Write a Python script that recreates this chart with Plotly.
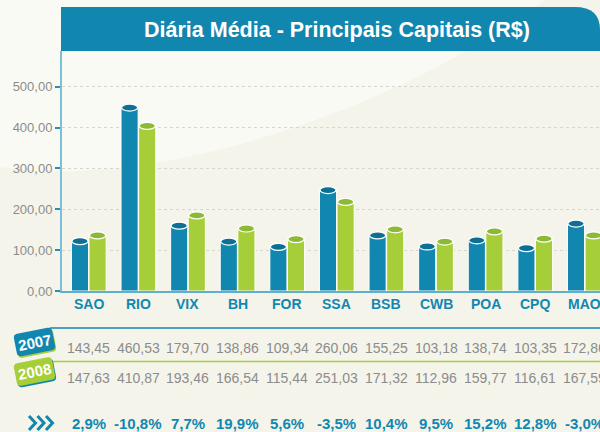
import math

import plotly.graph_objects as go

# capitals shown on the chart
cities = ["SAO", "RIO", "VIX", "BH", "FOR", "SSA", "BSB", "CWB", "POA", "CPQ", "MAO"]

# bar heights as drawn (R$)
bars_2007 = [122, 449, 160, 121, 108, 247, 136, 109, 124, 105, 165]
bars_2008 = [136, 404, 185, 153, 127, 218, 151, 121, 146, 128, 136]

# table under the chart
table_2007 = ["143,45", "460,53", "179,70", "138,86", "109,34", "260,06",
              "155,25", "103,18", "138,74", "103,35", "172,86"]
table_2008 = ["147,63", "410,87", "193,46", "166,54", "115,44", "251,03",
              "171,32", "112,96", "159,77", "116,61", "167,59"]
variation = ["2,9%", "-10,8%", "7,7%", "19,9%", "5,6%", "-3,5%",
             "10,4%", "9,5%", "15,2%", "12,8%", "-3,0%"]

y_ticks = [0, 100, 200, 300, 400, 500]

BLUE = "#1187b0"
BLUE_TOP = "#0e6f94"
GREEN = "#a6ce39"
GREEN_TOP = "#8cba34"
GRAY = "#8c8c8c"
BG = "#f4f4ea"
W, H = 600, 432


def px(x, y):
    # pixel -> paper coords (margins are zero)
    return x / W, 1 - y / H


def path_from(points):
    parts = []
    for i, (x, y) in enumerate(points):
        X, Y = px(x, y)
        parts.append(("M" if i == 0 else "L") + f" {X:.4f},{Y:.4f}")
    return " ".join(parts) + " Z"


def badge(cx, cy, w, h, r, angle):
    # rounded rectangle rotated around its centre
    pts = []
    corners = [(w / 2 - r, h / 2 - r, 0), (-w / 2 + r, h / 2 - r, 90),
               (-w / 2 + r, -h / 2 + r, 180), (w / 2 - r, -h / 2 + r, 270)]
    for ox, oy, start in corners:
        for k in range(5):
            a = math.radians(start + k * 22.5)
            pts.append((ox + r * math.cos(a), oy + r * math.sin(a)))
    t = math.radians(angle)
    out = []
    for x, y in pts:
        out.append((cx + x * math.cos(t) - y * math.sin(t),
                    cy + x * math.sin(t) + y * math.cos(t)))
    return path_from(out)


fig = go.Figure()

xs = list(range(len(cities)))
bar_w = 0.345
fig.add_trace(go.Bar(x=xs, y=bars_2007, name="2007", width=bar_w, offset=-0.35,
                     marker=dict(color=BLUE, line=dict(color="white", width=1))))
fig.add_trace(go.Bar(x=xs, y=bars_2008, name="2008", width=bar_w, offset=0.005,
                     marker=dict(color=GREEN, line=dict(color="white", width=1))))

shapes = []

# lighter swoosh in the background
p0 = px(0, 167)
c1 = px(150, 190)
c2 = px(390, 115)
p3 = px(545, 0)
shapes.append(dict(
    type="path", xref="paper", yref="paper", layer="below", line=dict(width=0),
    fillcolor="#fafaf5",
    path=f"M 0,1 L {p0[0]},{p0[1]} C {c1[0]},{c1[1]} {c2[0]},{c2[1]} {p3[0]},{p3[1]} Z",
))

# header band with rounded top-right corner
a = px(61, 51)
b = px(61, 7)
c = px(575, 7)
d = px(600, 30)
e = px(600, 51)
ctrl = px(600, 7)
shapes.append(dict(
    type="path", xref="paper", yref="paper", line=dict(width=0), fillcolor=BLUE,
    path=f"M {a[0]},{a[1]} L {b[0]},{b[1]} L {c[0]},{c[1]} Q {ctrl[0]},{ctrl[1]} {d[0]},{d[1]} L {e[0]},{e[1]} Z",
))

# cylinder tops
cap = 7 / 0.4086 / 2
for i in xs:
    for val, off, col in ((bars_2007[i], -0.35, BLUE_TOP), (bars_2008[i], 0.005, GREEN_TOP)):
        shapes.append(dict(
            type="circle", xref="x", yref="y",
            x0=i + off + 0.01, x1=i + off + bar_w - 0.01,
            y0=val - cap, y1=val + cap,
            fillcolor=col, line=dict(color="white", width=1.2),
        ))

# table rules
for yy, col in ((328, BLUE), (361.5, GREEN)):
    l0 = px(50, yy)
    l1 = px(600, yy)
    shapes.append(dict(type="line", xref="paper", yref="paper",
                       x0=l0[0], y0=l0[1], x1=l1[0], y1=l1[1],
                       line=dict(color=col, width=1.5)))

# year badges (with the thin edge in the other colour)
shapes.append(dict(type="path", xref="paper", yref="paper", line=dict(width=0),
                   fillcolor=GREEN, path=badge(35.5, 343.5, 39, 23, 4, -11)))
shapes.append(dict(type="path", xref="paper", yref="paper", line=dict(width=0),
                   fillcolor=BLUE, path=badge(34.5, 342, 39, 23, 4, -11)))
shapes.append(dict(type="path", xref="paper", yref="paper", line=dict(width=0),
                   fillcolor=BLUE, path=badge(35.5, 373, 39, 23, 4, -11)))
shapes.append(dict(type="path", xref="paper", yref="paper", line=dict(width=0),
                   fillcolor=GREEN, path=badge(34.5, 371.5, 39, 23, 4, -11)))

# chevrons in front of the variation row
for x0 in (29, 37.5, 46):
    q0 = px(x0, 416)
    q1 = px(x0 + 6.5, 423)
    q2 = px(x0, 430)
    shapes.append(dict(type="path", xref="paper", yref="paper",
                       path=f"M {q0[0]},{q0[1]} L {q1[0]},{q1[1]} L {q2[0]},{q2[1]}",
                       line=dict(color=BLUE, width=3)))

FONT = "Liberation Sans, Arial"
annotations = [dict(
    text="<b>Diária Média - Principais Capitais (R$)</b>", xref="paper", yref="paper",
    x=px(337, 0)[0], y=px(0, 30)[1], xanchor="center", yanchor="middle",
    showarrow=False, font=dict(family=FONT, size=21.5, color="white"),
)]
for txt, yy in (("2007", 342), ("2008", 371.5)):
    annotations.append(dict(text=f"<b>{txt}</b>", xref="paper", yref="paper",
                            x=px(34.5, 0)[0], y=px(0, yy)[1],
                            xanchor="center", yanchor="middle",
                            showarrow=False, textangle=-11,
                            font=dict(family=FONT, size=15, color="white")))

rows = [
    (cities, 304, 14, BLUE, True),
    (table_2007, 348, 14, GRAY, False),
    (table_2008, 378, 14, GRAY, False),
    (variation, 423, 15, BLUE, True),
]
for labels, yy, size, col, bold in rows:
    for i, txt in enumerate(labels):
        annotations.append(dict(
            text=f"<b>{txt}</b>" if bold else txt, xref="x", yref="paper",
            x=i, y=px(0, yy)[1], xanchor="center", yanchor="middle",
            showarrow=False, font=dict(family=FONT, size=size, color=col),
        ))

fig.update_layout(
    width=W, height=H, autosize=False,
    margin=dict(l=0, r=0, t=0, b=0, pad=0, autoexpand=False),
    paper_bgcolor=BG, plot_bgcolor="rgba(0,0,0,0)",
    barmode="overlay", showlegend=False,
    separators=",.",
    shapes=shapes, annotations=annotations,
    font=dict(family=FONT),
)
fig.update_xaxes(
    domain=[62 / W, 1], range=[-0.54, 10.306], automargin=False,
    showticklabels=False, showgrid=False, zeroline=False,
    showline=True, linecolor="#5fb0cf", linewidth=2,
)
fig.update_yaxes(
    domain=[1 - 291 / H, 1 - 51 / H], range=[0, 587.4], automargin=False,
    tickvals=y_ticks, tickformat=".2f",
    tickfont=dict(size=13, color=GRAY),
    ticks="outside", ticklen=5, tickwidth=1.5, tickcolor="#2a8db5",
    showgrid=True, gridcolor="#d6d6d0", griddash="3px,3px", gridwidth=1,
    zeroline=False, showline=True, linecolor="#7dbfd8", linewidth=2,
)

# page body has an 8px margin by default; drop it so the figure fills the window
fig.write_html("out.html", config={"displayModeBar": False},
               post_script="document.body.style.margin='0';")
